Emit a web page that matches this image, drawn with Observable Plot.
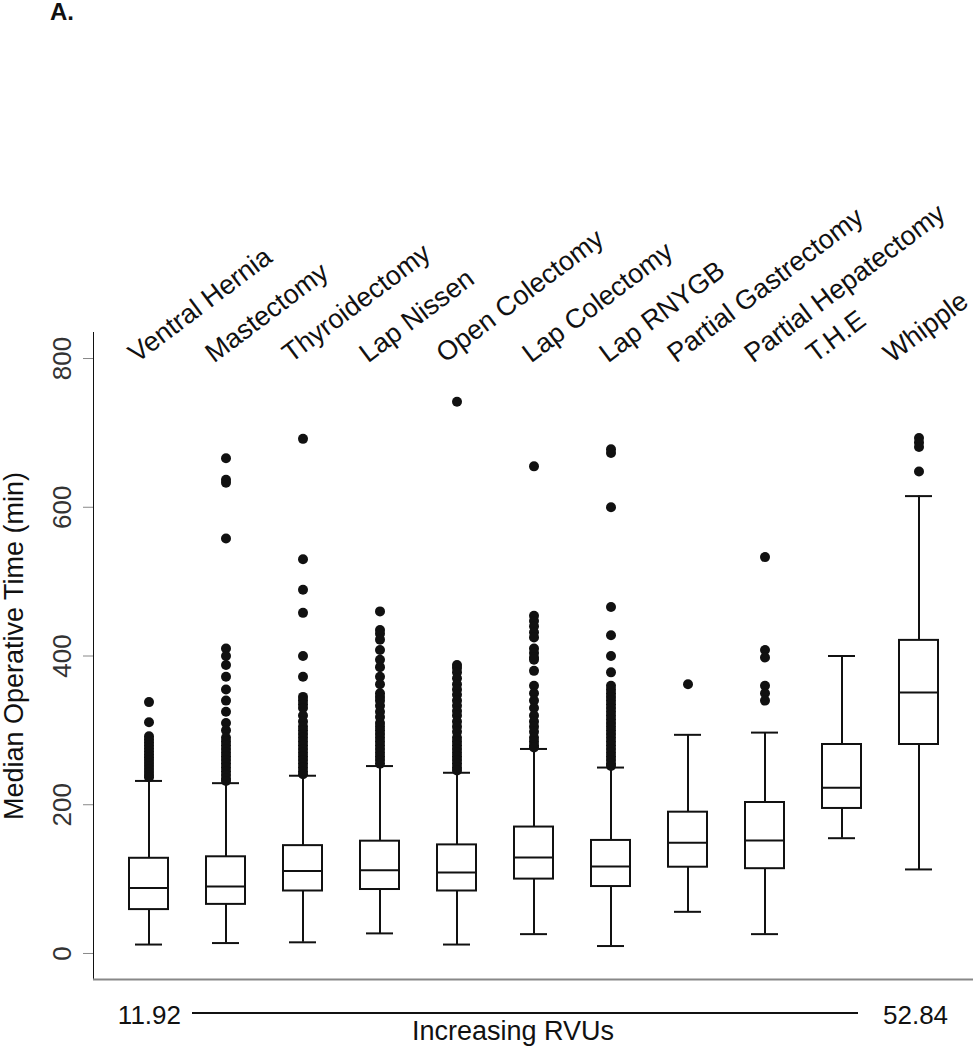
<!DOCTYPE html>
<html>
<head>
<meta charset="utf-8">
<script src="https://cdn.jsdelivr.net/npm/d3@7"></script>
<script src="https://cdn.jsdelivr.net/npm/@observablehq/plot@0.6"></script>
<style>
  html, body { margin: 0; padding: 0; background: #fff; }
  body { width: 979px; height: 1050px; position: relative; overflow: hidden;
         font-family: "Liberation Sans", Arial, sans-serif; color: #111; }
  #title { position: absolute; left: 50px; top: -2px; font-size: 24px; font-weight: bold; line-height: 28px; }
  #chart { position: absolute; left: 0; top: 0; }
  #rvu { position: absolute; left: 0; top: 990px; width: 979px; height: 60px; font-size: 26px; line-height: 30px; }
  #rvu .lo { position: absolute; right: calc(979px - 181px); top: 10px; }
  #rvu .hi { position: absolute; left: 883px; top: 10px; }
  #rvu .bar { position: absolute; left: 192px; width: 666px; top: 22px; border-top: 2px solid #111; }
  #rvu .lab { position: absolute; left: 412px; top: 26px; font-size: 27px; line-height: 31px; }
</style>
</head>
<body>
<div id="title">A.</div>
<div id="chart"></div>
<div id="rvu"></div>
<script>
const categories = ["Ventral Hernia","Mastectomy","Thyroidectomy","Lap Nissen","Open Colectomy",
  "Lap Colectomy","Lap RNYGB","Partial Gastrectomy","Partial Hepatectomy","T.H.E","Whipple"];
const whiskerLow  = [12, 14, 15, 27, 12, 26, 10, 56, 26, 155, 113];
const quartile1   = [59, 66, 84, 86, 84, 100, 90, 116, 114, 195, 281];
const medians     = [88, 90, 111, 112, 109, 129, 117, 149, 152, 223, 351];
const quartile3   = [128, 130, 145, 151, 146, 170, 152, 190, 203, 281, 421];
const whiskerHigh = [232, 229, 239, 252, 243, 275, 250, 294, 297, 400, 615];
const outlierValues = [
  [338, 311, 292, 288, 284, 280, 276, 272, 268, 264, 260, 256, 252, 248, 244, 240, 237],
  [666, 637, 633, 558, 410, 400, 388, 372, 355, 340, 325, 310, 300, 290, 285, 280, 275, 270, 265, 260, 255, 250, 245, 240, 235, 232],
  [692, 530, 489, 458, 400, 372, 345, 340, 335, 330, 320, 312, 305, 300, 295, 290, 285, 280, 275, 270, 265, 260, 255, 250, 245, 241],
  [460, 435, 430, 422, 408, 395, 385, 372, 362, 350, 345, 340, 333, 325, 318, 310, 305, 300, 295, 290, 285, 280, 275, 270, 265, 260, 255],
  [742, 388, 384, 378, 370, 362, 355, 348, 340, 333, 326, 320, 312, 305, 298, 290, 285, 280, 275, 270, 265, 260, 255, 250, 246],
  [655, 454, 447, 440, 432, 425, 410, 404, 398, 395, 380, 360, 350, 340, 330, 320, 312, 305, 298, 290, 285, 280, 277],
  [678, 673, 600, 466, 428, 400, 378, 360, 355, 350, 345, 340, 335, 330, 325, 320, 315, 310, 305, 300, 295, 290, 285, 280, 275, 270, 265, 260, 255, 252],
  [362],
  [533, 408, 398, 360, 350, 340],
  [],
  [693, 687, 681, 648]
];
const yTicks = [0, 200, 400, 600, 800];
const yLabel = "Median Operative Time (min)";
const rvuRange = [11.92, 52.84];
const rvuLabel = "Increasing RVUs";

const boxes = categories.map((c, i) => ({
  cat: c, lo: whiskerLow[i], q1: quartile1[i], med: medians[i], q3: quartile3[i], hi: whiskerHigh[i]
}));
const outliers = categories.flatMap((c, i) => outlierValues[i].map(v => ({cat: c, v})));

const ink = "#111";
const font = "'Liberation Sans', Arial, sans-serif";

// category labels: start-anchored, rotated, along the top of the frame
const labelOpts = {x: d => d, text: d => d, frameAnchor: "top", dy: 31,
  rotate: -37, textAnchor: "start", lineAnchor: "bottom", fontSize: 27, fill: ink};
const groupA = categories.filter((c, i) => i <= 4 || i === 7 || i === 8);
const groupB = categories.filter((c, i) => i === 5 || i === 6);
const groupC = categories.filter((c, i) => i >= 9);

const chart = Plot.plot({
  width: 979,
  height: 1000,
  marginLeft: 93,
  marginRight: 6,
  marginTop: 332,
  marginBottom: 21,
  style: {fontFamily: font, background: "transparent", overflow: "visible"},
  x: {domain: categories, paddingInner: 0.5, paddingOuter: 0.406, axis: null},
  y: {domain: [-35, 835], ticks: yTicks, tickSize: 10, tickFormat: () => "", label: null, line: true},
  marks: [
    Plot.ruleY([-35], {stroke: "#888", strokeWidth: 2}),
    Plot.ruleX(boxes, {x: "cat", y1: "lo", y2: "q1", stroke: ink, strokeWidth: 2}),
    Plot.ruleX(boxes, {x: "cat", y1: "q3", y2: "hi", stroke: ink, strokeWidth: 2}),
    Plot.tickY(boxes, {x: "cat", y: "lo", stroke: ink, strokeWidth: 2, insetLeft: 6, insetRight: 6}),
    Plot.tickY(boxes, {x: "cat", y: "hi", stroke: ink, strokeWidth: 2, insetLeft: 6, insetRight: 6}),
    Plot.barY(boxes, {x: "cat", y1: "q1", y2: "q3", fill: "white", stroke: ink, strokeWidth: 2}),
    Plot.tickY(boxes, {x: "cat", y: "med", stroke: ink, strokeWidth: 2}),
    Plot.dot(outliers, {x: "cat", y: "v", r: 5, fill: ink, stroke: "none"}),
    Plot.text(yTicks, {y: d => d, text: d => String(d), frameAnchor: "left", textAnchor: "middle",
      dx: -31, rotate: -90, fontSize: 26, fill: "#333"}),
    Plot.text([yLabel], {text: d => d, frameAnchor: "left", textAnchor: "middle", dx: -79, dy: -10,
      rotate: -90, fontSize: 27, fill: ink}),
    Plot.text(groupA, {...labelOpts, dx: -12}),
    Plot.text(groupB, {...labelOpts, dx: -3}),
    Plot.text(groupC, {...labelOpts, dx: -27})
  ]
});
chart.querySelectorAll('[aria-label="y-axis tick"], g[aria-label="y-axis"] path').forEach(p => p.setAttribute("stroke", "#888"));
document.getElementById("chart").appendChild(chart);

const rvu = document.getElementById("rvu");
rvu.innerHTML = `<span class="lo">${rvuRange[0].toFixed(2)}</span><div class="bar"></div>` +
  `<span class="hi">${rvuRange[1].toFixed(2)}</span><span class="lab">${rvuLabel}</span>`;
</script>
</body>
</html>
